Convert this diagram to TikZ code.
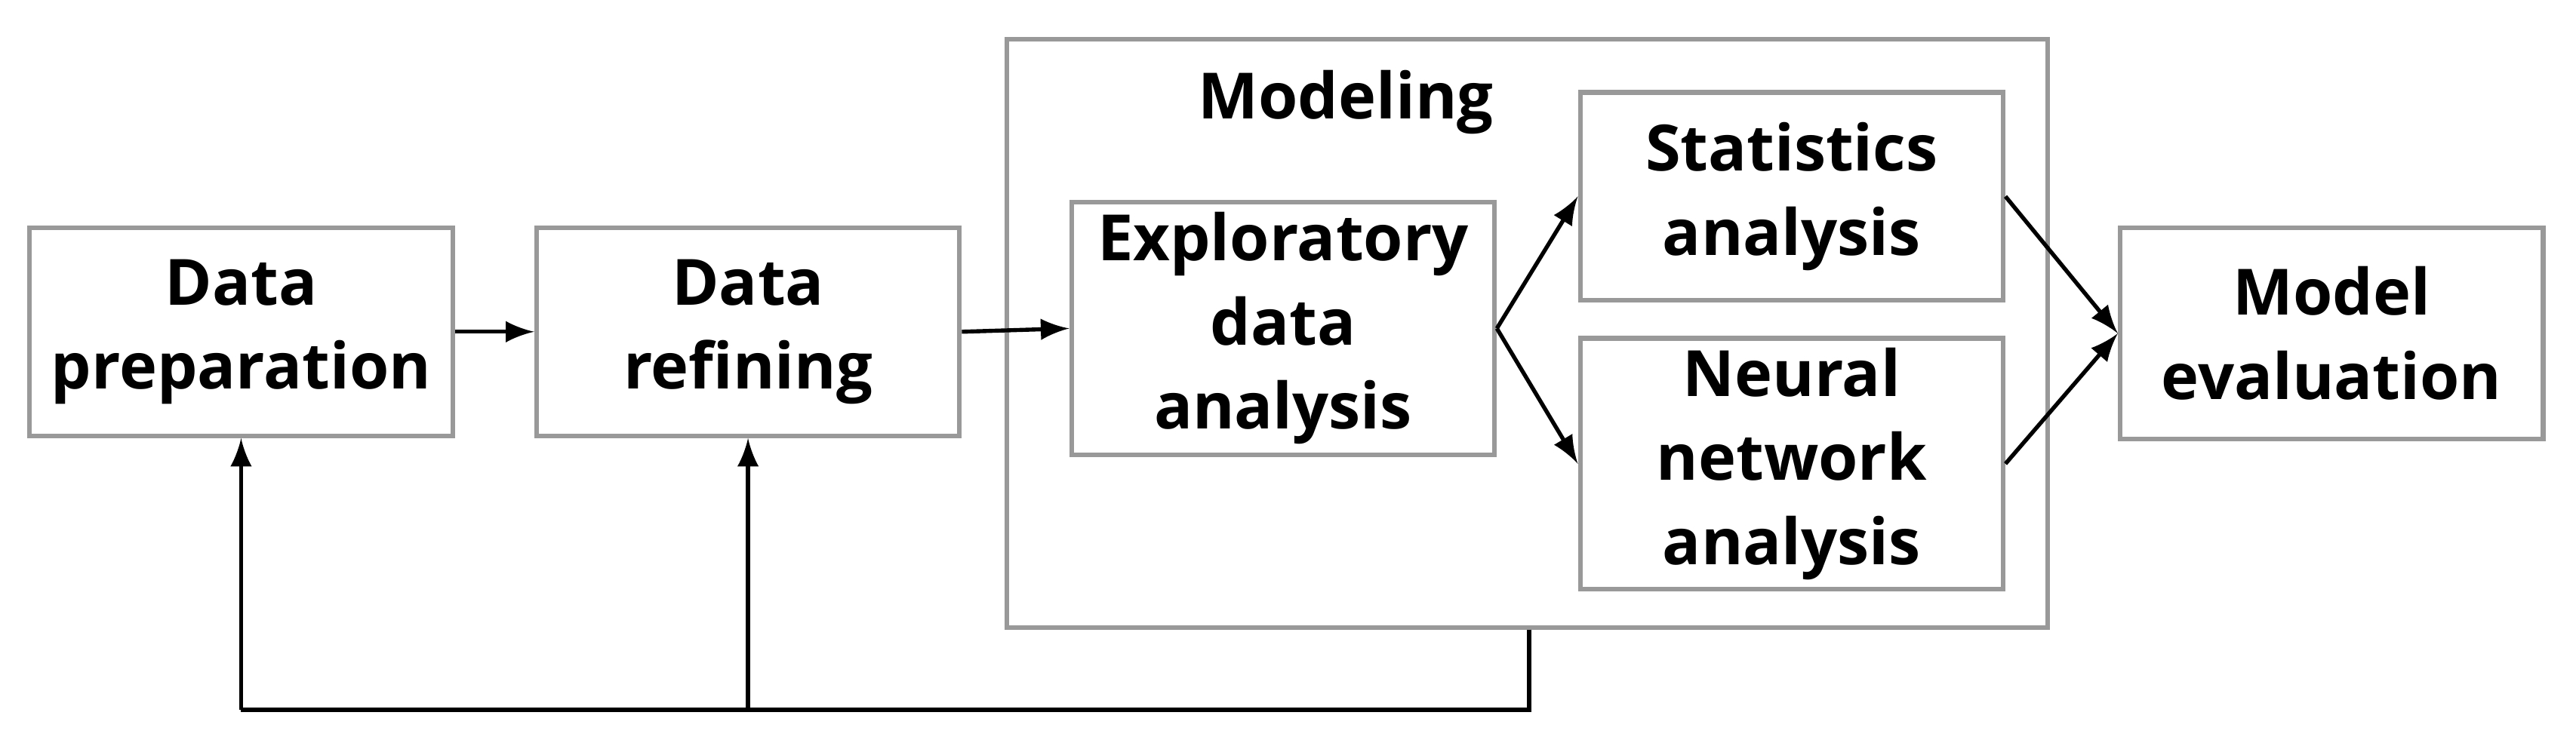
\documentclass[tikz,border=0pt]{standalone}
\usepackage{fontspec}
\setmainfont{Open Sans}
\usetikzlibrary{arrows}

\begin{document}
\begin{tikzpicture}[x=0.01cm,y=-0.01cm, >=latex,
    box/.style={draw=gray!80, line width=0.8pt, align=center, font=\fontsize{11}{14.5}\selectfont\bfseries,
      inner sep=0pt, minimum width=2.56cm, minimum height=1.26cm},
    link/.style={->, line width=0.7pt}]
    \useasboundingbox (0,0) rectangle (1560,450);
    \node[draw=gray!80, line width=0.8pt, minimum width=6.3cm, minimum height=3.56cm] (M) at (925,202) {};
    \node[font=\fontsize{11}{14}\selectfont\bfseries] (ML) at (815,62) {Modeling};
    \node[box] (P) at (146,201) {Data\\preparation};
    \node[box] (R) at (453,201) {Data\\refining};
    \node[box, minimum height=1.53cm] (E) at (777,199) {Exploratory\\data\\analysis};
    \node[box] (S) at (1085,119) {Statistics\\analysis};
    \node[box, minimum height=1.52cm] (N) at (1085,281) {Neural\\network\\analysis};
    \node[box, minimum height=1.28cm] (V) at (1412,202) {Model\\evaluation};
    \coordinate (f) at (926,430);
    \draw[link] (P) -- (R);
    \draw[link] (R.east) -- (E.west);
    \draw[link] (E.east) -- (S.west);
    \draw[link] (E.east) -- (N.west);
    \draw[link] (S.east) -- (V.west);
    \draw[link] (N.east) -- (V.west);
    \draw[line width=0.7pt] (M.south -| f) -- (f) -- (f -| P);
    \draw[link] (f -| P) -- (P.south);
    \draw[link] (f -| R) -- (R.south);
\end{tikzpicture}
\end{document}
